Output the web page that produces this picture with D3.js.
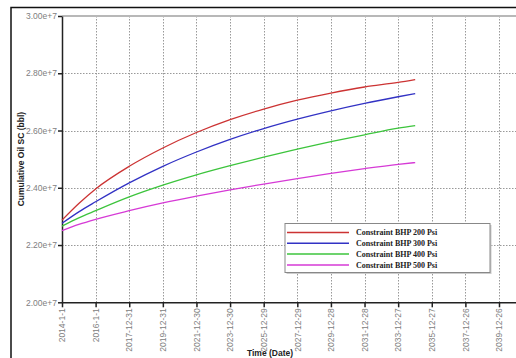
<!DOCTYPE html>
<html>
<head>
<meta charset="utf-8">
<script src="https://cdn.jsdelivr.net/npm/d3@7"></script>
<style>
  body { margin: 0; background: #fff; }
  svg { display: block; }
</style>
</head>
<body>
<svg id="chart"></svg>
<script>
// sample dates (x) for the four curves
const dates = ['2014-1-1', '2015-1-1', '2016-1-1', '2017-12-31', '2019-12-31', '2021-12-30',
  '2023-12-30', '2025-12-29', '2027-12-29', '2029-12-28', '2031-12-28', '2033-12-27', '2035-1-1'];

// cumulative oil, units of 1e7 bbl
const bhp200 = [2.287, 2.345, 2.396, 2.475, 2.539, 2.593, 2.638, 2.675, 2.706, 2.731, 2.752, 2.768, 2.778];
const bhp300 = [2.276, 2.316, 2.351, 2.417, 2.475, 2.525, 2.569, 2.607, 2.640, 2.669, 2.695, 2.718, 2.729];
const bhp400 = [2.266, 2.295, 2.320, 2.368, 2.409, 2.445, 2.477, 2.507, 2.535, 2.561, 2.585, 2.608, 2.617];
const bhp500 = [2.250, 2.272, 2.290, 2.320, 2.347, 2.371, 2.393, 2.413, 2.432, 2.450, 2.467, 2.482, 2.488];

const seriesNames = ['Constraint BHP 200 Psi', 'Constraint BHP 300 Psi', 'Constraint BHP 400 Psi', 'Constraint BHP 500 Psi'];
const colors = ['#cc3333', '#3232c4', '#3cc43c', '#d63ad6'];

const xTickLabels = ['2014-1-1', '2016-1-1', '2017-12-31', '2019-12-31', '2021-12-30', '2023-12-30',
  '2025-12-29', '2027-12-29', '2029-12-28', '2031-12-28', '2033-12-27', '2035-12-27', '2037-12-26', '2039-12-26'];
const yTicks = [2.0, 2.2, 2.4, 2.6, 2.8, 3.0];

const width = 516;
const height = 358;
const plotL = 62, plotT = 16, plotB = 302.3, plotR = 516;

const parse = d3.timeParse('%Y-%m-%d');

const svg = d3.select('#chart')
  .attr('width', width)
  .attr('height', height);

// outer frame
svg.append('path')
  .attr('d', `M11,${height} V7.5 H${width}`)
  .attr('fill', 'none')
  .attr('stroke', '#111')
  .attr('stroke-width', 1.5);

const x = d3.scaleTime()
  .domain([parse(xTickLabels[0]), parse(xTickLabels[xTickLabels.length - 1])])
  .range([plotL, 499]);
x.domain([x.domain()[0], x.invert(plotR)]).range([plotL, plotR]);

const y = d3.scaleLinear()
  .domain([2.0, 3.0])
  .range([plotB, plotT]);

// grid
const grid = svg.append('g');
grid.selectAll('.vgrid')
  .data(xTickLabels.slice(1))
  .enter().append('line')
  .attr('class', 'vgrid')
  .attr('x1', d => Math.round(x(parse(d))) + 0.5)
  .attr('x2', d => Math.round(x(parse(d))) + 0.5)
  .attr('y1', plotT)
  .attr('y2', plotB)
  .attr('stroke', '#999')
  .attr('stroke-dasharray', '1.5,1.5');
grid.selectAll('.hgrid')
  .data(yTicks.slice(1, -1))
  .enter().append('line')
  .attr('class', 'hgrid')
  .attr('x1', plotL)
  .attr('x2', plotR)
  .attr('y1', d => Math.round(y(d)) + 0.5)
  .attr('y2', d => Math.round(y(d)) + 0.5)
  .attr('stroke', '#999')
  .attr('stroke-dasharray', '1.5,1.5');
// top line
grid.append('line')
  .attr('x1', plotL).attr('x2', plotR)
  .attr('y1', y(3.0)).attr('y2', y(3.0))
  .attr('stroke', '#b8b8b8')
  .attr('stroke-width', 2);

// axes
const yAxis = svg.append('g')
  .attr('transform', `translate(${plotL},0)`)
  .call(d3.axisLeft(y).tickValues(yTicks).tickSize(4).tickSizeOuter(0)
    .tickFormat(d => d3.format('.2f')(d) + 'e+7'));
yAxis.select('.domain').attr('stroke', '#222').attr('stroke-width', 1.5);
yAxis.selectAll('.tick line').attr('stroke', '#222').attr('stroke-width', 1.5);
yAxis.selectAll('.tick text')
  .attr('fill', '#808080')
  .style('font', '8.5px "Liberation Sans", Arial, sans-serif')
  .attr('x', -5);

const xAxis = svg.append('g')
  .attr('transform', `translate(0,${plotB})`)
  .call(d3.axisBottom(x).tickValues(xTickLabels.map(parse)).tickSize(5).tickSizeOuter(0)
    .tickFormat((d, i) => xTickLabels[i]));
xAxis.select('.domain').attr('stroke', '#222').attr('stroke-width', 1.5);
xAxis.selectAll('.tick line').attr('stroke', '#222').attr('stroke-width', 1.5);
xAxis.selectAll('.tick text')
  .attr('fill', '#808080')
  .style('font', '8.5px "Liberation Sans", Arial, sans-serif')
  .attr('transform', 'rotate(-90)')
  .attr('text-anchor', 'end')
  .attr('dy', '0.32em')
  .attr('x', -6)
  .attr('y', 0);

// axis titles
svg.append('text')
  .attr('transform', `translate(24,${(plotT + plotB) / 2}) rotate(-90)`)
  .attr('text-anchor', 'middle')
  .style('font', 'bold 8.5px "Liberation Sans", Arial, sans-serif')
  .attr('fill', '#222')
  .text('Cumulative Oil SC (bbl)');
svg.append('text')
  .attr('x', 270)
  .attr('y', 356)
  .attr('text-anchor', 'middle')
  .style('font', 'bold 8.5px "Liberation Sans", Arial, sans-serif')
  .attr('fill', '#222')
  .text('Time (Date)');

// curves
const series = [bhp200, bhp300, bhp400, bhp500];
const line = d3.line()
  .x((d, i) => x(parse(dates[i])))
  .y(d => y(d))
  .curve(d3.curveMonotoneX);

svg.append('g').selectAll('path')
  .data(series)
  .enter().append('path')
  .attr('d', line)
  .attr('fill', 'none')
  .attr('stroke', (d, i) => colors[i])
  .attr('stroke-width', 1.3);

// legend
const legend = svg.append('g').attr('transform', 'translate(285,223.5)');
legend.append('rect')
  .attr('x', 1.5).attr('y', 1.5)
  .attr('width', 205).attr('height', 49)
  .attr('fill', '#ccc');
legend.append('rect')
  .attr('width', 205).attr('height', 49)
  .attr('fill', '#fff')
  .attr('stroke', '#888');
const rows = legend.selectAll('.row')
  .data(seriesNames)
  .enter().append('g')
  .attr('class', 'row')
  .attr('transform', (d, i) => `translate(0,${9 + i * 10.8})`);
rows.append('line')
  .attr('x1', 2).attr('x2', 64)
  .attr('stroke', (d, i) => colors[i])
  .attr('stroke-width', 1.5);
rows.append('text')
  .attr('x', 71)
  .attr('dy', '0.35em')
  .style('font', 'bold 8px "Liberation Serif", "Times New Roman", serif')
  .attr('fill', '#222')
  .text(d => d);
</script>
</body>
</html>
